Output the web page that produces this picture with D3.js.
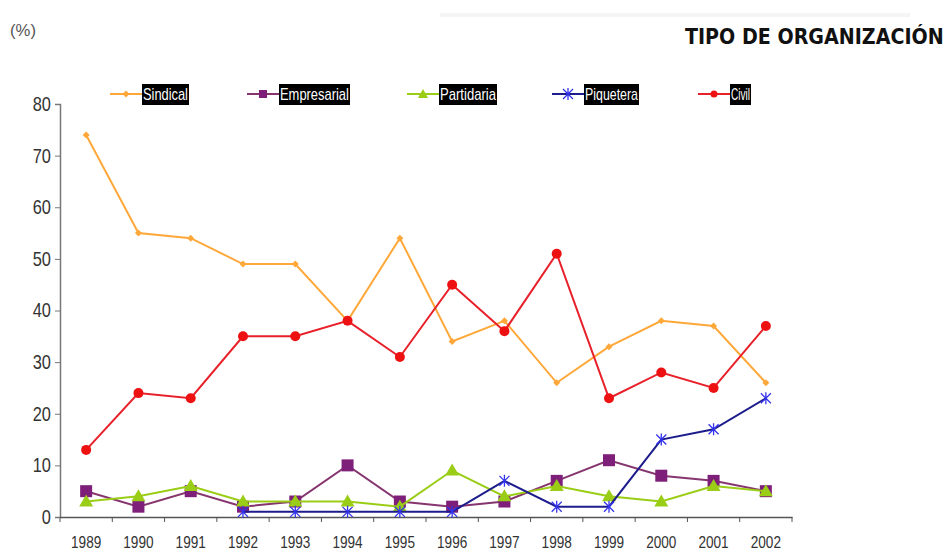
<!DOCTYPE html>
<html><head><meta charset="utf-8">
<script src="https://cdn.jsdelivr.net/npm/d3@7"></script>
<style>
body{margin:0;background:#fff;}
svg{display:block;}
</style></head>
<body><svg id="c" width="950" height="553"></svg>
<script>
const years = ["1989","1990","1991","1992","1993","1994","1995","1996","1997","1998","1999","2000","2001","2002"];
const sindical    = [74,55,54,49,49,38,54,34,38,26,33,38,37,26];
const empresarial = [5,2,5,2,3,10,3,2,3,7,11,8,7,5];
const partidaria  = [3,4,6,3,3,3,2,9,4,6,4,3,6,5];
const piquetera   = [null,null,null,1,1,1,1,1,7,2,2,15,17,23];
const civil       = [13,24,23,35,35,38,31,45,36,51,23,28,25,37];
const yTicks = [0,10,20,30,40,50,60,70,80];

const series = [
  {name:"Sindical", values:sindical, color:"#FFA83A", marker:"diamond"},
  {name:"Empresarial", values:empresarial, color:"#7E1F7A", line:"#86356F", marker:"square"},
  {name:"Partidaria", values:partidaria, color:"#9ACD15", marker:"triangle"},
  {name:"Piquetera", values:piquetera, color:"#3333EE", line:"#1C1C8C", marker:"star"},
  {name:"Civil", values:civil, color:"#EE1111", line:"#E8202A", marker:"circle"}
];
// legend layout (positions only)
const legX = [110,247,407,552,698];
const legW = [47,71,58,55,21];

const svg = d3.select("#c");
const font = "'Liberation Sans',Arial,sans-serif";

const x = d3.scaleBand().domain(years).range([60,792]);
const y = d3.scaleLinear().domain([0,80]).range([517,104]);

// squeeze a text placed at (x0,y0) so it is `target` px wide
function fit(t, x0, y0, target){
  const w = t.node().getComputedTextLength();
  t.attr("x",0).attr("y",0).attr("transform",`translate(${x0},${y0}) scale(${target/w},1)`);
}

// header
fit(svg.append("text").attr("font-family",font).attr("font-size",17).attr("fill","#555").text("(%)"), 10, 36, 26);
svg.append("rect").attr("x",440).attr("y",13).attr("width",470).attr("height",4).attr("fill","#f5f5f5");
fit(svg.append("text").attr("font-family","'DejaVu Sans',sans-serif").attr("font-weight","bold")
  .attr("font-size",22).attr("fill","#111").text("TIPO DE ORGANIZACIÓN"), 685, 44, 259);

// y axis
const ya = svg.append("g").attr("transform","translate(60,0)").call(d3.axisLeft(y).tickValues(yTicks).tickSize(5).tickPadding(6));
ya.select(".domain").attr("stroke","#777").attr("stroke-width",1.5);
ya.selectAll(".tick line").attr("stroke","#777");
ya.selectAll("text").attr("font-family",font).attr("font-size",20).attr("fill","#333")
  .attr("transform","scale(0.82,1)");

// x axis
const xa = svg.append("g").attr("transform","translate(0,517)").call(d3.axisBottom(x).tickSize(0).tickPadding(19));
xa.select(".domain").attr("stroke","#555").attr("stroke-width",1.5);
xa.selectAll("text").attr("font-family",font).attr("font-size",17).attr("fill","#333")
  .attr("transform","scale(0.8,1)");
const bounds = years.map(d=>x(d)).concat([x(years[years.length-1])+x.bandwidth()]);
svg.append("g").selectAll("line").data(bounds).join("line")
  .attr("x1",d=>d).attr("x2",d=>d).attr("y1",517).attr("y2",522).attr("stroke","#555");

const cx = d=>x(d)+x.bandwidth()/2;

function marker(g, type, color){
  if(type==="circle") g.append("circle").attr("r",5).attr("fill",color);
  else if(type==="square") g.append("rect").attr("x",-6).attr("y",-6).attr("width",12).attr("height",12).attr("fill",color);
  else if(type==="triangle") g.append("path").attr("d","M0,-7L7,5L-7,5Z").attr("fill",color);
  else if(type==="diamond") g.append("path").attr("d","M0,-3.5L3.5,0L0,3.5L-3.5,0Z").attr("fill",color);
  else if(type==="star"){
    g.append("path").attr("d","M-5,-5L5,5M-5,5L5,-5M0,-6L0,6").attr("stroke",color).attr("stroke-width",1.3).attr("fill","none");
  }
}

series.forEach(s=>{
  const pts = years.map((yr,i)=>({yr, v:s.values[i]})).filter(p=>p.v!==null);
  const line = d3.line().x(p=>cx(p.yr)).y(p=>y(p.v));
  svg.append("path").datum(pts).attr("d",line).attr("fill","none").attr("stroke",s.line||s.color).attr("stroke-width",2);
  const g = svg.append("g");
  pts.forEach(p=>{
    const m = g.append("g").attr("transform",`translate(${cx(p.yr)},${y(p.v)})`);
    marker(m, s.marker, s.color);
  });
});

// legend
series.forEach((s,i)=>{
  const g = svg.append("g").attr("transform",`translate(${legX[i]},94)`);
  g.append("line").attr("x1",0).attr("x2",32).attr("stroke",s.line||s.color).attr("stroke-width",2);
  const m = g.append("g").attr("transform","translate(16,0)");
  if(s.marker==="square") m.append("rect").attr("x",-4).attr("y",-4).attr("width",8).attr("height",8).attr("fill",s.color);
  else if(s.marker==="triangle") m.append("path").attr("d","M0,-5L5,4L-5,4Z").attr("fill",s.color);
  else if(s.marker==="circle") m.append("circle").attr("r",3.5).attr("fill",s.color);
  else marker(m, s.marker, s.color);
  g.append("rect").attr("x",32).attr("y",-10).attr("width",legW[i]).attr("height",21).attr("fill","#000");
  fit(g.append("text").attr("font-family",font).attr("font-size",16).attr("fill","#fff").text(s.name), 33, 6, legW[i]-2);
});
</script></body></html>
